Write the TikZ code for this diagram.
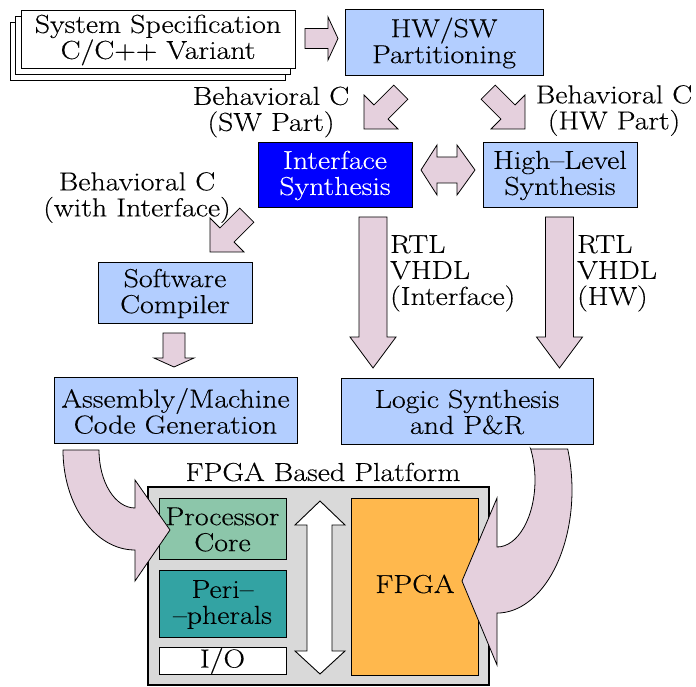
\documentclass[tikz,border=0pt]{standalone}
\usepackage{fontspec}
\setmainfont{Latin Modern Roman}[FakeStretch=1.15, FakeBold=0.3]
\definecolor{arrowpink}{RGB}{229,208,221}
\definecolor{boxblue}{RGB}{179,206,255}
\definecolor{ifblue}{RGB}{0,0,255}
\definecolor{coregreen}{RGB}{140,198,170}
\definecolor{periteal}{RGB}{51,163,163}
\definecolor{fpgaorange}{RGB}{255,184,77}
\definecolor{platgray}{RGB}{217,217,217}
\newcommand\barrow[7]{\draw[arrowfill,shift={(#1,#2)},rotate=#3] (0,-#5) -- ({#4-#7},-#5) -- ({#4-#7},-#6) -- (#4,0) -- ({#4-#7},#6) -- ({#4-#7},#5) -- (0,#5) -- cycle;}
\begin{document}
\begin{tikzpicture}[x=1pt,y=-1pt,
  every node/.style={font=\fontsize{26}{26}\selectfont, align=center, inner sep=0pt},
  box/.style={draw=black, line width=0.9pt, fill=boxblue},
  arrowfill/.style={draw=black, line width=0.8pt, fill=arrowpink, line join=miter}]
\useasboundingbox (0,0) rectangle (696,687);

% system specification stack
\draw[line width=0.9pt, fill=white] (10,22) rectangle (285,80);
\draw[line width=0.9pt, fill=white] (15,16) rectangle (290,74);
\draw[line width=0.9pt, fill=white] (21,10) rectangle (295,68);
\node (spec) at (158,40) {System Specification\\C/C++ Variant};

% HW/SW partitioning
\draw[box] (345,9) rectangle (543,75);
\node (part) at (444,43) {HW/SW\\Partitioning};

% interface synthesis
\draw[draw=black, line width=0.9pt, fill=ifblue] (258,142) rectangle (412,207);
\node[text=white] (ifs) at (335,175.5) {Interface\\Synthesis};

% high-level synthesis
\draw[box] (483,142) rectangle (637,207);
\node (hls) at (560,175.5) {High–Level\\Synthesis};

% software compiler
\draw[box] (98,262) rectangle (252,323);
\node (swc) at (175,293.5) {Software\\Compiler};

% assembly
\draw[box] (54,377) rectangle (297,443);
\node (asm) at (175.5,411) {Assembly/Machine\\Code Generation};

% logic synthesis
\draw[box] (341,378) rectangle (593,444);
\node (logic) at (467,412) {Logic Synthesis\\and P\&R};

% labels
\node (lsw) at (271,112) {Behavioral C\\(SW Part)};
\node (lhw) at (614,110.5) {Behavioral C\\(HW Part)};
\node (lif) at (137,197.5) {Behavioral C\\(with Interface)};
\node[anchor=north west, align=left] (lrtl1) at (390,235) {RTL\\VHDL\\(Interface)};
\node[anchor=north west, align=left] (lrtl2) at (577,235) {RTL\\VHDL\\(HW)};

% block arrows
\barrow{305}{38.5}{0}{33}{10}{21.5}{10}
\barrow{400.8}{92.2}{-135}{52}{10}{24}{24}
\barrow{488.2}{92.2}{-45}{52}{10}{24}{24}
\barrow{246.8}{215.2}{-135}{52}{10}{24}{24}
\barrow{373}{217}{-90}{151}{14}{23}{31}
\barrow{559.5}{217}{-90}{151}{14}{23}{31}
\barrow{174}{333}{-90}{34}{11}{20}{9}

% double arrow between interface and HLS
\draw[arrowfill] (421,170) -- (437,145) -- (437,157) -- (457,157) -- (457,145) -- (475,170) -- (457,195) -- (457,183) -- (437,183) -- (437,195) -- cycle;

% platform
\node (plat) at (323,472) {FPGA Based Platform};
\draw[line width=1.8pt, fill=platgray] (148,487) rectangle (489,685);
\draw[line width=0.9pt, fill=coregreen] (159,498) rectangle (286,559);
\node (core) at (222.5,529.5) {Processor\\Core};
\draw[line width=0.9pt, fill=periteal] (159,570) rectangle (286,637);
\node (peri) at (222.5,604.5) {Peri–\\–pherals};
\draw[line width=0.9pt, fill=white] (159,647) rectangle (286,674);
\node (io) at (222.5,661) {I/O};
\draw[line width=0.9pt, fill=white] (320,501) -- (345,525) -- (332,525) -- (332,651) -- (345,651) -- (320,674) -- (295,651) -- (307,651) -- (307,525) -- (295,525) -- cycle;
\draw[line width=0.9pt, fill=fpgaorange] (351,498) rectangle (478,675);
\node (fpga) at (415,584) {FPGA};

% curved arrows
\draw[arrowfill] (63,450) -- (99,450) arc[start angle=180, end angle=270, x radius=36pt, y radius=58pt] -- (135,480) -- (170,530) -- (135,581) -- (135,550) arc[start angle=270, end angle=180, x radius=72pt, y radius=100pt] -- cycle;
\draw[arrowfill] (530.7,449) -- (567.7,449) arc[start angle=19.5, end angle=-90, x radius=75pt, y radius=123pt] -- (497,665) -- (462,581) -- (497,498) -- (497,547) arc[start angle=-90, end angle=27.6, x radius=38pt, y radius=67pt] -- cycle;
\end{tikzpicture}
\end{document}
